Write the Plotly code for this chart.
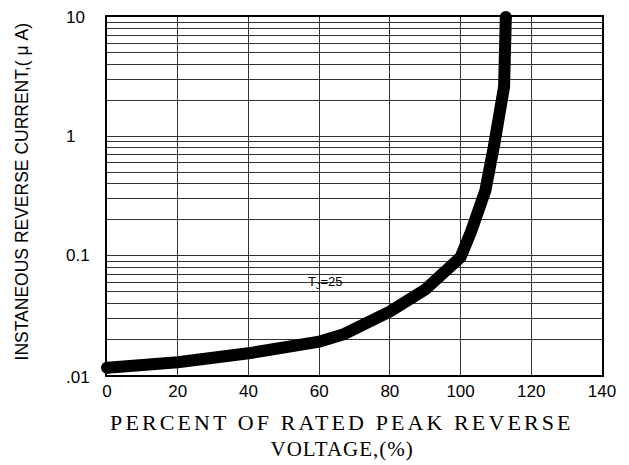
import plotly.graph_objects as go
import math

# Data
voltage_pct = [0, 20, 40, 60, 67, 75, 80, 90, 95, 100, 103, 105, 107, 109.5, 111, 112.3, 112.8]
reverse_current_uA = [0.0115, 0.0128, 0.0152, 0.019, 0.022, 0.028, 0.034, 0.052, 0.07, 0.097,
                      0.16, 0.24, 0.35, 0.85, 1.45, 2.6, 10]

x_ticks = [0, 20, 40, 60, 80, 100, 120, 140]
y_grid_vals = [m * 10 ** e for e in (-2, -1, 0) for m in range(1, 10)] + [10]
y_label_vals = [0.01, 0.1, 1, 10]
y_label_text = [".01", "0.1", "1", "10"]

SANS = "Liberation Sans, Arial, sans-serif"
SERIF = "Liberation Serif, Times New Roman, serif"

# page body has an 8px margin; figure geometry (in figure pixels)
W, H = 621, 457
L, T, R_EDGE, B_EDGE = 98.7, 8.7, 593.7, 367.0
PW, PH = R_EDGE - L, B_EDGE - T


def px_x(sx):
    return (sx - 8 - L) / PW


def px_y(sy):
    return (B_EDGE - (sy - 8)) / PH


fig = go.Figure()
fig.add_trace(go.Scatter(
    x=voltage_pct, y=reverse_current_uA, mode="lines",
    line=dict(color="black", width=12, shape="linear"),
    hoverinfo="skip", showlegend=False, cliponaxis=False,
))
# round end caps
fig.add_trace(go.Scatter(
    x=[voltage_pct[0], voltage_pct[-1]], y=[reverse_current_uA[0], reverse_current_uA[-1]],
    mode="markers", marker=dict(color="black", size=12, line=dict(width=0)),
    hoverinfo="skip", showlegend=False, cliponaxis=False,
))

fig.update_layout(
    width=W, height=H,
    margin=dict(l=L, r=W - R_EDGE, t=T, b=H - B_EDGE),
    paper_bgcolor="white", plot_bgcolor="white",
    font=dict(family=SANS, size=17, color="black"),
)
fig.update_xaxes(
    range=[0, 140], tickvals=x_ticks, ticktext=[str(v) for v in x_ticks],
    showgrid=True, gridcolor="#333", gridwidth=1,
    showline=True, linecolor="black", linewidth=1.5, mirror=True,
    ticks="", zeroline=False, tickfont=dict(family=SANS, size=17),
)
fig.update_yaxes(
    type="log", range=[-2, 1], tickvals=y_grid_vals, showticklabels=False,
    showgrid=True, gridcolor="#333", gridwidth=1,
    showline=True, linecolor="black", linewidth=1.5, mirror=True,
    ticks="", zeroline=False,
)

# y tick labels (left aligned as in reference)
for v, t in zip(y_label_vals, y_label_text):
    fig.add_annotation(
        xref="paper", yref="y", x=px_x(64), y=math.log10(v),
        yshift=-2 if v == 0.01 else 0,
        text=t, showarrow=False, xanchor="left", yanchor="middle",
        font=dict(family=SANS, size=17),
    )

# y axis title
fig.add_annotation(
    xref="paper", yref="paper", x=px_x(22), y=px_y(192),
    text="INSTANEOUS REVERSE CURRENT,( μ A)", textangle=-90, showarrow=False,
    xanchor="center", yanchor="middle", font=dict(family=SANS, size=17.5),
)
# x axis title (two lines)
fig.add_annotation(
    xref="paper", yref="paper", x=px_x(342), y=px_y(423),
    text="PERCENT OF RATED PEAK REVERSE", showarrow=False,
    xanchor="center", yanchor="middle", font=dict(family=SERIF, size=22),
)
fig.add_annotation(
    xref="paper", yref="paper", x=px_x(342), y=px_y(449),
    text="VOLTAGE,(%)", showarrow=False,
    xanchor="center", yanchor="middle", font=dict(family=SERIF, size=21),
)
# temperature label
fig.add_annotation(
    xref="x", yref="y", x=61.7, y=-1.229,
    text="T<sub>J</sub>=25", showarrow=False,
    xanchor="center", yanchor="middle", font=dict(family=SANS, size=13),
)

spacing_js = """
var gd = document.getElementById('{plot_id}');
function applySpacing(){
  var anns = gd.querySelectorAll('g.annotation');
  anns.forEach(function(g){
    var t = g.querySelector('text');
    if (t && t.textContent === 'PERCENT OF RATED PEAK REVERSE') {
      t.style.letterSpacing = '3.1px';
    } else if (t && t.textContent === 'VOLTAGE,(%)') {
      t.style.letterSpacing = '1px';
    }
  });
}
applySpacing();
gd.on('plotly_afterplot', applySpacing);
"""

fig.write_html("out.html", post_script=spacing_js)
